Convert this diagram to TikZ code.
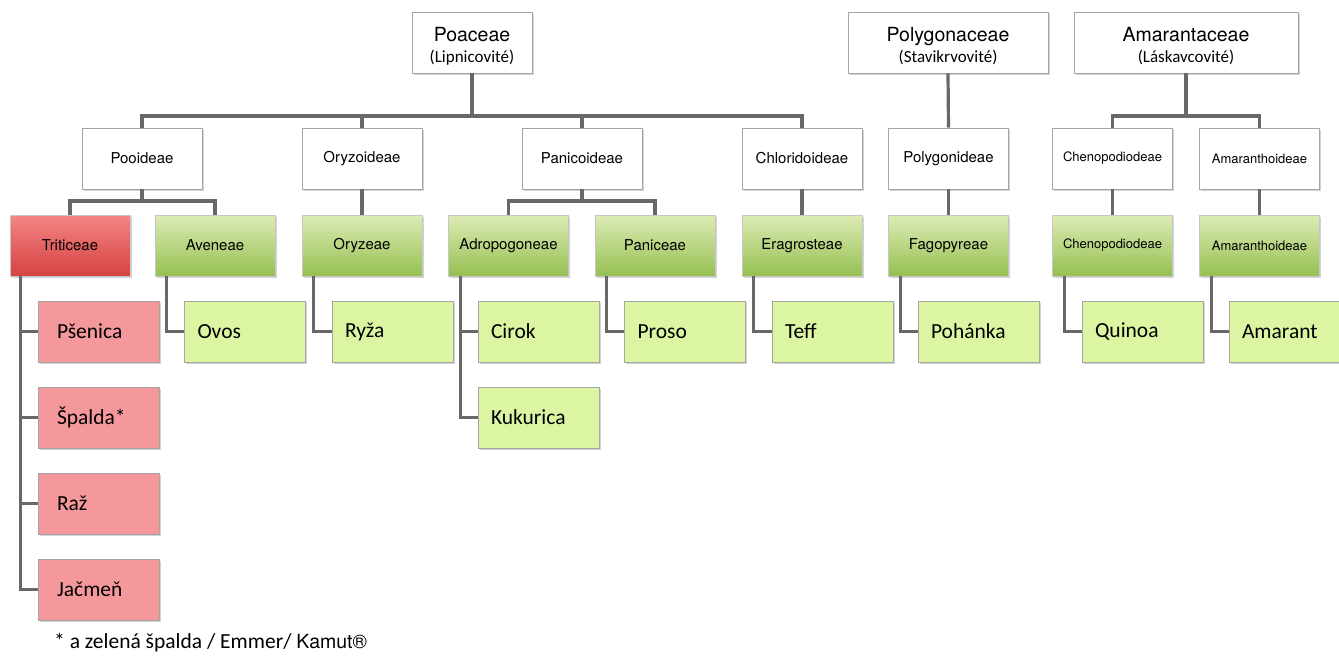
\documentclass[tikz,border=0pt]{standalone}
\usepackage{fontspec}
\setmainfont{Carlito}
\newfontfamily\helv{TeX Gyre Heros}
\usetikzlibrary{shadows}
\definecolor{cline}{RGB}{104,104,104}
\definecolor{cbord}{RGB}{165,165,165}
\definecolor{gtop}{RGB}{220,235,180}
\definecolor{gbot}{RGB}{150,192,82}
\definecolor{rtop}{RGB}{242,134,132}
\definecolor{rbot}{RGB}{214,66,66}
\definecolor{gleaf}{RGB}{220,245,162}
\definecolor{rleaf}{RGB}{244,152,156}
\begin{document}
\begin{tikzpicture}[x=1pt,y=-1pt,
	box/.style={draw=cbord,line width=0.8pt,fill=white,minimum width=120pt,minimum height=61pt,inner sep=0pt,
		drop shadow={shadow xshift=1.5pt,shadow yshift=-2pt,opacity=0.35},font=\helv\fontsize{15}{18}\selectfont},
	small/.style={font=\helv\fontsize{13}{16}\selectfont},
	family/.style={box,align=center,font=\helv\fontsize{19.5}{20}\selectfont},
	tribe/.style={box,draw=black!22,top color=gtop,bottom color=gbot},
	tribered/.style={box,draw=black!22,top color=rtop,bottom color=rbot},
	leaf/.style={box,fill=gleaf,minimum width=121pt,inner xsep=13pt,text width=95pt,align=left,font=\fontsize{21.5}{24}\selectfont},
	leafred/.style={leaf,fill=rleaf,inner xsep=19pt,text width=83pt},
	conn/.style={draw=cline,line width=3.2pt}]
	\def\sub{\rmfamily\fontsize{17}{19}\selectfont}
	\def\top{\rule{0pt}{21pt}}
	\useasboundingbox (0,0) rectangle (1339,659);
	\coordinate (bus) at (0,116);
	\coordinate (sbus) at (0,201);
	% celedi
	\node[family] (poa) at (472,42.5) {\top Poaceae\\[1pt]{\sub (Lipnicovité)}};
	\node[family,minimum width=200pt] (polc) at (948,42.5) {\top Polygonaceae\\[1pt]{\sub (Stavikrvovité)}};
	\node[family,minimum width=224pt] (amac) at (1186,42.5) {\top Amarantaceae\\[1pt]{\sub (Láskavcovité)}};
	% podcelede
	\node[box] (pooid) at (142,158.5) {Pooideae};
	\node[box] (oryzo) at (362,158.5) {Oryzoideae};
	\node[box] (panic) at (582,158.5) {Panicoideae};
	\node[box] (chlor) at (802,158.5) {Chloridoideae};
	\node[box] (polyg) at (948.5,158.5) {Polygonideae};
	\node[box,small] (cheno) at (1112.5,158.5) {Chenopodiodeae};
	\node[box,small] (amara) at (1259.5,158.5) {Amaranthoideae};
	% triby
	\node[tribered] (trit) at (70,245.5) {Triticeae};
	\node[tribe] (aven) at (215,245.5) {Aveneae};
	\node[tribe] (oryze) at (362,245.5) {Oryzeae};
	\node[tribe] (adro) at (508.5,245.5) {Adropogoneae};
	\node[tribe] (pani) at (655,245.5) {Paniceae};
	\node[tribe] (erag) at (802,245.5) {Eragrosteae};
	\node[tribe] (fago) at (948.5,245.5) {Fagopyreae};
	\node[tribe,small] (chent) at (1112.5,245.5) {Chenopodiodeae};
	\node[tribe,small] (amart) at (1259.5,245.5) {Amaranthoideae};
	% plodiny
	\foreach \n/\t [count=\i] in {psen/Pšenica,spal/Špalda*,raz/Raž,jacm/Jačmeň}{
		\node[leafred] (\n) at (98.5,{331.5+86*(\i-1)}) {\t};
		\draw[conn] ([xshift=11pt]trit.south west) |- (\n.west);
	}
	\node[leaf] (ovos) at (245,331.5) {Ovos};
	\node[leaf] (ryza) at (392.5,331.5) {Ryža};
	\node[leaf] (cirok) at (538.5,331.5) {Cirok};
	\node[leaf] (kuku) at (538.5,417.5) {Kukurica};
	\node[leaf] (proso) at (685,331.5) {Proso};
	\node[leaf] (teff) at (832.5,331.5) {Teff};
	\node[leaf] (poha) at (978.5,331.5) {Pohánka};
	\node[leaf] (quin) at (1142.5,331.5) {Quinoa};
	\node[leaf] (amar) at (1289.5,331.5) {Amarant};
	\node[anchor=west,font=\fontsize{21.5}{24}\selectfont,inner sep=0pt] (pozn) at (54,643) {* a zelená špalda / Emmer/ {\helv\fontsize{19.5}{22}\selectfont Kamut®}};
	% spojnice
	\draw[conn] (poa.south) -- (poa.south |- bus);
	\draw[conn] (pooid.north) |- (chlor.north |- bus) -- (chlor.north);
	\draw[conn] (oryzo.north) -- (oryzo.north |- bus);
	\draw[conn] (panic.north) -- (panic.north |- bus);
	\draw[conn] (polc.south) -- (polyg.north);
	\draw[conn] (amac.south) -- (amac.south |- bus);
	\draw[conn] (cheno.north) |- (amara.north |- bus) -- (amara.north);
	\draw[conn] (pooid.south) -- (pooid.south |- sbus);
	\draw[conn] (trit.north) |- (aven.north |- sbus) -- (aven.north);
	\draw[conn] (panic.south) -- (panic.south |- sbus);
	\draw[conn] (adro.north) |- (pani.north |- sbus) -- (pani.north);
	\draw[conn] (oryzo.south) -- (oryze.north);
	\draw[conn] (chlor.south) -- (erag.north);
	\draw[conn] (polyg.south) -- (fago.north);
	\draw[conn] (cheno.south) -- (chent.north);
	\draw[conn] (amara.south) -- (amart.north);
	\draw[conn] ([xshift=12pt]aven.south west) |- (ovos.west);
	\draw[conn] ([xshift=12pt]oryze.south west) |- (ryza.west);
	\draw[conn] ([xshift=12pt]adro.south west) |- (cirok.west);
	\draw[conn] ([xshift=12pt]adro.south west) |- (kuku.west);
	\draw[conn] ([xshift=12pt]pani.south west) |- (proso.west);
	\draw[conn] ([xshift=12pt]erag.south west) |- (teff.west);
	\draw[conn] ([xshift=12pt]fago.south west) |- (poha.west);
	\draw[conn] ([xshift=12pt]chent.south west) |- (quin.west);
	\draw[conn] ([xshift=12pt]amart.south west) |- (amar.west);
\end{tikzpicture}
\end{document}
